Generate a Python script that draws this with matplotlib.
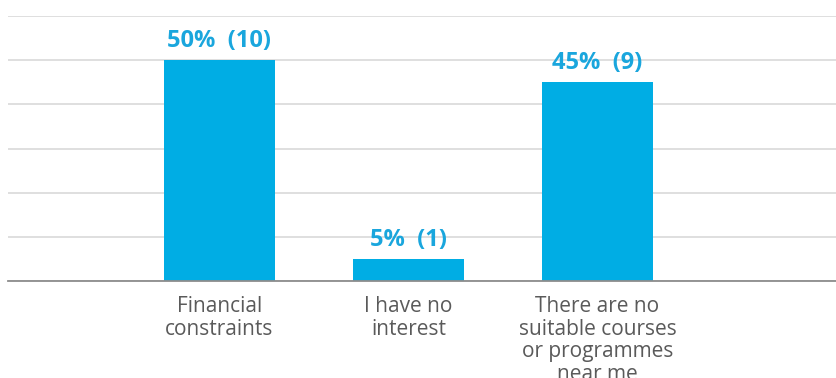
import matplotlib
matplotlib.use('Agg')
import matplotlib.pyplot as plt

# Reasons given for not taking part
categories = ['Financial\nconstraints', 'I have no\ninterest',
              'There are no\nsuitable courses\nor programmes\nnear me']
percent = [50, 5, 45]
counts = [10, 1, 9]

bar_color = '#00ADE4'
text_blue = '#1AA6DD'

plt.rcParams['font.family'] = ['Open Sans', 'DejaVu Sans']

fig = plt.figure(figsize=(8.36, 3.78), dpi=100)
ax = fig.add_axes([8 / 836, 1 - 281 / 378, 828 / 836, (281 - 16) / 378])

x = list(range(len(categories)))
bars = ax.bar(x, percent, width=0.587, color=bar_color, zorder=3)

for xi, p, n in zip(x, percent, counts):
    ax.annotate(f'{p}%  ({n})', (xi, p), xytext=(0, 5),
                textcoords='offset points', ha='center', va='bottom',
                fontsize=17, fontweight='bold', color=text_blue)

ax.set_xlim(-1.119, 3.262)
ax.set_ylim(0, 60.05)
ax.set_yticks(range(0, 61, 10))
ax.yaxis.grid(True, color='#D9D9D9', linewidth=1.2, zorder=0)
ax.tick_params(axis='y', left=False, labelleft=False)

ax.set_xticks(x)
ax.set_xticklabels(categories, fontsize=15, color='#5A5A5A',
                   linespacing=1.1)
ax.tick_params(axis='x', length=0, pad=11)

for side in ['left', 'right', 'top']:
    ax.spines[side].set_visible(False)
ax.spines['bottom'].set_color('#8C8C8C')
ax.spines['bottom'].set_linewidth(1.3)
ax.spines['bottom'].set_zorder(4)

fig.savefig('out.png', dpi=100)
